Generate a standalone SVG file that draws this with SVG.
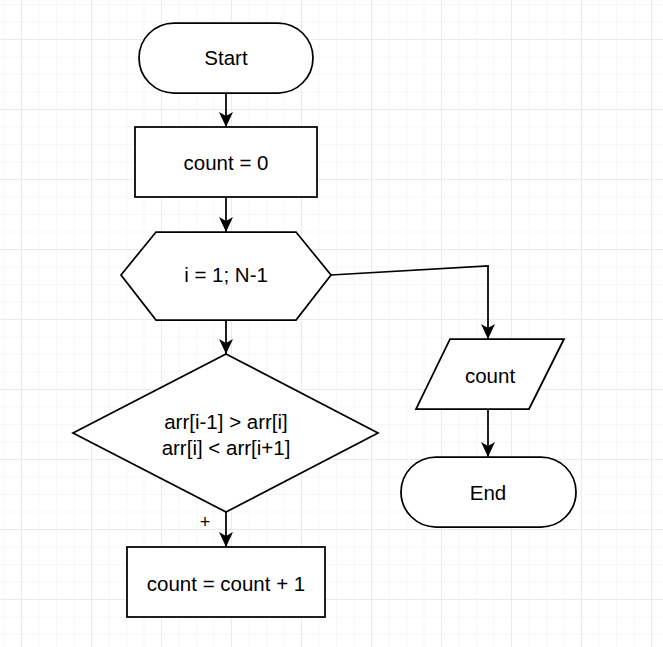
<svg xmlns="http://www.w3.org/2000/svg" width="663" height="647" viewBox="0 0 663 647">
<defs>
<pattern id="minor" x="3.5" y="4" width="17.5" height="17.5" patternUnits="userSpaceOnUse">
<path d="M0,0 H17.5 M0,0 V17.5" fill="none" stroke="#f0f0f0" stroke-width="1"/>
</pattern>
<pattern id="major" x="21" y="39" width="70" height="70" patternUnits="userSpaceOnUse">
<path d="M0,0 H70 M0,0 V70" fill="none" stroke="#e0e0e0" stroke-width="1"/>
</pattern>
<marker id="arr" viewBox="0 -7 15 14" refX="15" refY="0" markerWidth="15" markerHeight="14" markerUnits="userSpaceOnUse" orient="auto">
<path d="M0,-7 L15,0 L0,7 L4,0 Z" fill="#000"/>
</marker>
</defs>
<style>
.s{fill:#fff;stroke:#000;stroke-width:1.75}
.t{font-family:"Liberation Sans",Arial,sans-serif;font-size:20.5px;fill:#000;text-anchor:middle}
.p{font-family:"Liberation Sans",Arial,sans-serif;font-size:18px;fill:#000;text-anchor:middle}
.c{fill:none;stroke:#000;stroke-width:1.75;marker-end:url(#arr)}
</style>
<rect width="663" height="647" fill="#fff"/>
<rect width="663" height="647" fill="url(#minor)"/>
<rect width="663" height="647" fill="url(#major)"/>
<g id="connectors">
<path class="c" d="M226,93 V127"/>
<path class="c" d="M226,197 V232"/>
<path class="c" d="M226,320 V354"/>
<path class="c" d="M226,512 V547"/>
<path class="c" d="M331,275 L488,266 V339"/>
<path class="c" d="M488,409 V457"/>
<text class="p" x="205" y="528">+</text>
</g>
<g id="start">
<rect class="s" x="139" y="23" width="174" height="70" rx="35" ry="35"/>
<text class="t" x="226" y="65">Start</text>
</g>
<g id="init">
<rect class="s" x="135" y="127" width="182" height="70"/>
<text class="t" x="226" y="170">count = 0</text>
</g>
<g id="loop">
<polygon class="s" points="121,275 156,232 296,232 331,275 296,320 156,320"/>
<text class="t" x="226" y="282">i = 1; N-1</text>
</g>
<g id="cond">
<polygon class="s" points="226,354 378,433 226,512 73,433"/>
<text class="t" x="226" y="429">arr[i-1] &gt; arr[i]</text>
<text class="t" x="226" y="455">arr[i] &lt; arr[i+1]</text>
</g>
<g id="inc">
<rect class="s" x="127" y="547" width="198" height="70"/>
<text class="t" x="226" y="590.5">count = count + 1</text>
</g>
<g id="output">
<polygon class="s" points="450,339 564,339 529,409 416,409"/>
<text class="t" x="490" y="383">count</text>
</g>
<g id="end">
<rect class="s" x="401" y="457" width="175" height="70" rx="35" ry="35"/>
<text class="t" x="488" y="500">End</text>
</g>
</svg>
